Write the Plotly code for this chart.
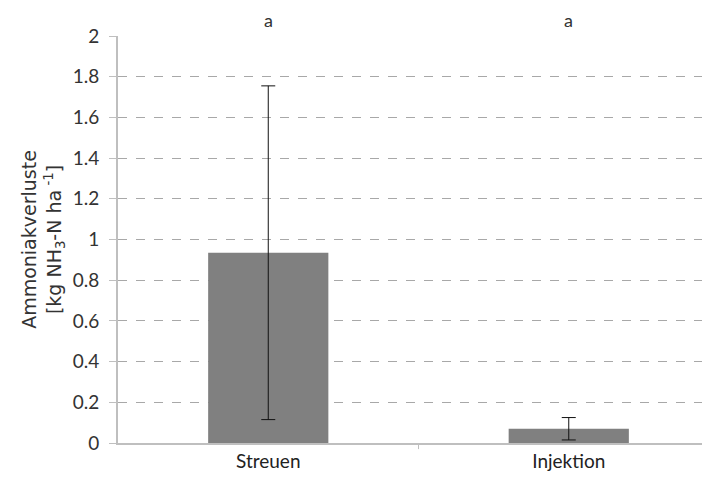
import plotly.graph_objects as go

categories = ["Streuen", "Injektion"]
values = [0.935, 0.07]
errors = [0.82, 0.055]
letters = ["a", "a"]
y_ticks = [0, 0.2, 0.4, 0.6, 0.8, 1, 1.2, 1.4, 1.6, 1.8, 2]
y_ticktext = ["0", "0.2", "0.4", "0.6", "0.8", "1", "1.2", "1.4", "1.6", "1.8", "2"]

fig = go.Figure()
fig.add_trace(go.Bar(
    x=categories, y=values, width=0.4,
    marker=dict(color="#808080", line=dict(width=0)),
    error_y=dict(type="data", array=errors, visible=True, color="#111111", thickness=1, width=7),
))

for c, l in zip(categories, letters):
    fig.add_annotation(x=c, y=1.0, xref="x", yref="paper", yanchor="bottom", yshift=4,
                       borderpad=0, text=l, showarrow=False,
                       font=dict(size=18, color="#333333"))

fig.update_layout(
    width=710, height=488,
    margin=dict(l=110, r=8, t=28, b=53),
    plot_bgcolor="white", paper_bgcolor="white",
    font=dict(family="Lato, Open Sans, sans-serif", color="#333333", size=16),
    showlegend=False,
)
fig.update_xaxes(
    type="category", range=[-0.5, 1.47],
    showline=True, linecolor="#bfbfbf", linewidth=2,
    ticks="", showgrid=False,
    tickfont=dict(size=19, color="#222222"),
)
fig.update_yaxes(
    range=[0, 2], tickvals=y_ticks, ticktext=y_ticktext,
    showgrid=True, gridcolor="#a8a8a8", griddash="dash", gridwidth=1,
    showline=True, linecolor="#bfbfbf", linewidth=2,
    ticks="outside", ticklen=7, tickcolor="#bfbfbf",
    ticklabelstandoff=6,
    tickfont=dict(size=19, color="#333333"),
    zeroline=False,
    title=dict(text="Ammoniakverluste<br>[kg NH<sub>3</sub>-N ha<sup> -1</sup>]",
               font=dict(size=19, color="#333333", family="DejaVu Sans"), standoff=6),
)
fig.add_shape(type="line", xref="x", yref="paper", x0=0.5, x1=0.5, y0=0, y1=-0.015,
              line=dict(color="#bfbfbf", width=1))

fig.write_html("out.html")
